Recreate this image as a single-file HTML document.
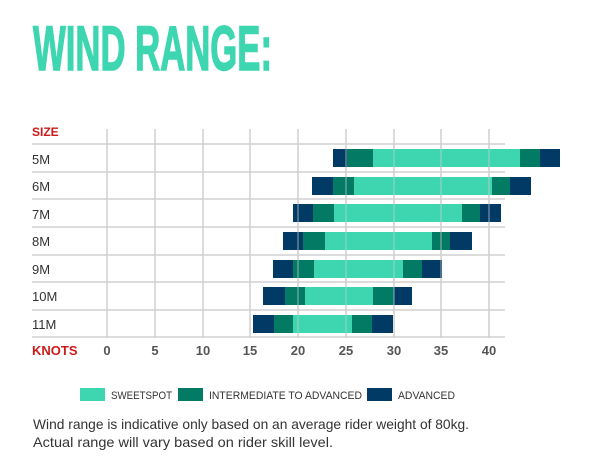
<!DOCTYPE html>
<html><head><meta charset="utf-8"><style>
html,body{margin:0;padding:0;background:#fff;}
svg{display:block;}
</style></head><body>
<svg width="615" height="474" viewBox="0 0 615 474" xmlns="http://www.w3.org/2000/svg" font-family="Liberation Sans, sans-serif">
<rect width="615" height="474" fill="#fff"/>
<text x="33" y="70" font-size="63" font-weight="bold" fill="#3dd6b0" stroke="#3dd6b0" stroke-width="1.5" textLength="239" lengthAdjust="spacingAndGlyphs">WIND RANGE:</text>
<g stroke="#d0d0d0" stroke-width="1.5">
<line x1="107" y1="129" x2="107" y2="338"/>
<line x1="155" y1="129" x2="155" y2="338"/>
<line x1="203" y1="129" x2="203" y2="338"/>
<line x1="250" y1="129" x2="250" y2="338"/>
<line x1="298" y1="129" x2="298" y2="338"/>
<line x1="346" y1="129" x2="346" y2="338"/>
<line x1="394" y1="129" x2="394" y2="338"/>
<line x1="441" y1="129" x2="441" y2="338"/>
<line x1="489" y1="129" x2="489" y2="338"/>
<line x1="32" y1="144" x2="505" y2="144"/>
<line x1="32" y1="172" x2="505" y2="172"/>
<line x1="32" y1="199" x2="505" y2="199"/>
<line x1="32" y1="227" x2="505" y2="227"/>
<line x1="32" y1="255" x2="505" y2="255"/>
<line x1="32" y1="282" x2="505" y2="282"/>
<line x1="32" y1="310" x2="505" y2="310"/>
<line x1="32" y1="337" x2="505" y2="337"/>
</g>
<g>
<rect x="333" y="149" width="227" height="18" fill="#023a66"/>
<rect x="347" y="149" width="193" height="18" fill="#037a63"/>
<rect x="373" y="149" width="147" height="18" fill="#3dd6b0"/>

<rect x="312" y="177" width="219" height="18" fill="#023a66"/>
<rect x="333" y="177" width="177" height="18" fill="#037a63"/>
<rect x="354" y="177" width="138" height="18" fill="#3dd6b0"/>

<rect x="293" y="204" width="208" height="18" fill="#023a66"/>
<rect x="313" y="204" width="167" height="18" fill="#037a63"/>
<rect x="334" y="204" width="128" height="18" fill="#3dd6b0"/>

<rect x="283" y="232" width="189" height="18" fill="#023a66"/>
<rect x="303" y="232" width="147" height="18" fill="#037a63"/>
<rect x="325" y="232" width="107" height="18" fill="#3dd6b0"/>

<rect x="273" y="260" width="169" height="18" fill="#023a66"/>
<rect x="293" y="260" width="129" height="18" fill="#037a63"/>
<rect x="314" y="260" width="89" height="18" fill="#3dd6b0"/>

<rect x="263" y="287" width="149" height="18" fill="#023a66"/>
<rect x="285" y="287" width="109" height="18" fill="#037a63"/>
<rect x="305" y="287" width="68" height="18" fill="#3dd6b0"/>

<rect x="253" y="315" width="140" height="18" fill="#023a66"/>
<rect x="274" y="315" width="98" height="18" fill="#037a63"/>
<rect x="293" y="315" width="59" height="18" fill="#3dd6b0"/>
</g>
<g stroke="#d0d0d0" stroke-width="1.2" opacity="0.6">
<line x1="346" y1="144" x2="346" y2="337"/><line x1="394" y1="144" x2="394" y2="337"/>
<line x1="441" y1="144" x2="441" y2="337"/><line x1="489" y1="144" x2="489" y2="337"/>
<line x1="298" y1="144" x2="298" y2="337"/>
</g>
<text x="32" y="136" font-size="12" font-weight="bold" fill="#cc1a1a">SIZE</text>
<g font-size="13" fill="#333">
<text x="32" y="164">5M</text>
<text x="32" y="191">6M</text>
<text x="32" y="219">7M</text>
<text x="32" y="246">8M</text>
<text x="32" y="274">9M</text>
<text x="32" y="301">10M</text>
<text x="32" y="329">11M</text>
</g>
<text x="32" y="355" font-size="13" font-weight="bold" fill="#cc1a1a">KNOTS</text>
<g font-size="13" font-weight="bold" fill="#555" text-anchor="middle">
<text x="107" y="355">0</text><text x="155" y="355">5</text><text x="203" y="355">10</text>
<text x="250" y="355">15</text><text x="298" y="355">20</text><text x="346" y="355">25</text>
<text x="394" y="355">30</text><text x="441" y="355">35</text><text x="489" y="355">40</text>
</g>
<rect x="80" y="388" width="25" height="13" fill="#3dd6b0"/>
<text x="111" y="399" font-size="11" fill="#333" textLength="61" lengthAdjust="spacingAndGlyphs">SWEETSPOT</text>
<rect x="178" y="388" width="25" height="13" fill="#037a63"/>
<text x="209" y="399" font-size="11" fill="#333" textLength="153" lengthAdjust="spacingAndGlyphs">INTERMEDIATE TO ADVANCED</text>
<rect x="367" y="388" width="25" height="13" fill="#023a66"/>
<text x="398" y="399" font-size="11" fill="#333" textLength="57" lengthAdjust="spacingAndGlyphs">ADVANCED</text>
<text x="33" y="429" font-size="14" fill="#333" textLength="436" lengthAdjust="spacingAndGlyphs">Wind range is indicative only based on an average rider weight of 80kg.</text>
<text x="33" y="447" font-size="14" fill="#333" textLength="300" lengthAdjust="spacingAndGlyphs">Actual range will vary based on rider skill level.</text>
</svg>
</body></html>
